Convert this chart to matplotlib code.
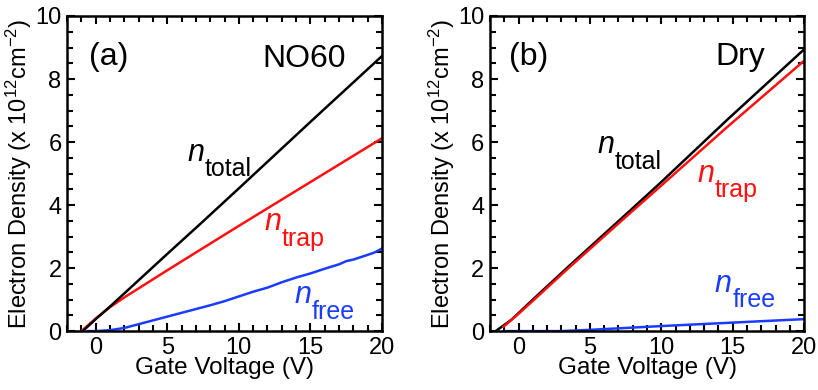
import numpy as np
import matplotlib.pyplot as plt
from matplotlib.ticker import MultipleLocator

plt.rcParams['font.family'] = ['Liberation Sans', 'DejaVu Sans']
plt.rcParams['mathtext.fontset'] = 'custom'
plt.rcParams['mathtext.rm'] = 'Liberation Sans'
plt.rcParams['mathtext.it'] = 'Liberation Sans:italic'

# (a) NO60
a_total_v = [-0.9, 0.0, 1.0, 5.0, 7.3, 10.0, 15.0, 20.0]
a_total_n = [0.0, 0.38, 0.78, 2.45, 3.40, 4.53, 6.64, 8.73]
a_trap_v = [-1.0, 0.0, 1.0, 2.0, 3.5, 5.0, 7.3, 10.0, 15.0, 20.0]
a_trap_n = [0.0, 0.40, 0.76, 1.07, 1.50, 1.93, 2.58, 3.34, 4.73, 6.12]
a_free_v = [-0.5, 0.0, 1.0, 2.0, 3.0, 4.0, 5.0, 6.0, 7.0, 8.0, 9.0, 10.0,
            11.0, 12.0, 13.0, 14.0, 15.0, 16.0, 17.0, 17.5, 18.0, 19.0, 19.5, 20.0]
a_free_n = [0.0, 0.0, 0.03, 0.10, 0.22, 0.34, 0.46, 0.58, 0.70, 0.82, 0.95, 1.10,
            1.25, 1.38, 1.55, 1.70, 1.83, 1.98, 2.12, 2.22, 2.27, 2.42, 2.50, 2.62]

# (b) Dry
b_total_v = [-1.6, -0.5, 1.0, 3.5, 7.8, 9.9, 14.6, 20.0]
b_total_n = [0.0, 0.36, 1.0, 2.05, 3.82, 4.69, 6.70, 8.94]
b_trap_v = [-1.05, 0.0, 1.0, 3.5, 7.8, 9.9, 14.6, 20.0]
b_trap_n = [0.14, 0.55, 0.96, 2.00, 3.74, 4.58, 6.47, 8.58]
b_free_v = [-1.0, 3.0, 5.0, 10.0, 15.0, 20.0]
b_free_n = [0.0, 0.0, 0.04, 0.16, 0.27, 0.38]

fig = plt.figure(figsize=(8.18, 3.9), dpi=100)
ax1 = fig.add_axes([0.082, 0.151, 0.385, 0.808])
ax2 = fig.add_axes([0.599, 0.151, 0.384, 0.808])

blue = '#1a3cff'
red = '#ff1010'


def style(ax):
    ax.set_xlim(-2, 20)
    ax.set_ylim(0, 10)
    ax.xaxis.set_major_locator(MultipleLocator(5))
    ax.xaxis.set_minor_locator(MultipleLocator(1))
    ax.yaxis.set_major_locator(MultipleLocator(2))
    ax.yaxis.set_minor_locator(MultipleLocator(0.5))
    ax.tick_params(which='both', direction='in', top=True, right=True,
                   width=1.5, labelsize=17)
    ax.tick_params(which='major', length=6, pad=4)
    ax.tick_params(which='minor', length=4)
    for s in ax.spines.values():
        s.set_linewidth(1.8)
    ax.set_xlabel('Gate Voltage (V)', fontsize=17.5, labelpad=-1)
    ax.set_ylabel('Electron Density (x 10$^{12}$cm$^{-2}$)', fontsize=17, labelpad=1)


def nlabel(ax, x, y, sub, color):
    ax.text(x, y, 'n', fontsize=22, style='italic', color=color, va='baseline')
    ax.annotate(sub, xy=(x, y), xytext=(12.5, -11), textcoords='offset points',
                fontsize=18, color=color, va='baseline')


ax1.plot(a_free_v, a_free_n, color=blue, lw=1.8)
ax1.plot(a_trap_v, a_trap_n, color=red, lw=1.8)
ax1.plot(a_total_v, a_total_n, color='black', lw=1.8)
style(ax1)
ax1.text(-0.5, 8.7, '(a)', fontsize=23, va='center')
ax1.text(17.5, 8.39, 'NO60', fontsize=23, ha='right', va='baseline')
nlabel(ax1, 6.4, 5.4, 'total', 'black')
nlabel(ax1, 11.8, 3.2, 'trap', red)
nlabel(ax1, 13.9, 0.88, 'free', blue)

ax2.plot(b_free_v, b_free_n, color=blue, lw=1.8)
ax2.plot(b_total_v, b_total_n, color='black', lw=1.8)
ax2.plot(b_trap_v, b_trap_n, color=red, lw=1.8)
style(ax2)
ax2.text(-0.65, 8.7, '(b)', fontsize=23, va='center')
ax2.text(17.25, 8.44, 'Dry', fontsize=23, ha='right', va='baseline')
nlabel(ax2, 5.5, 5.64, 'total', 'black')
nlabel(ax2, 12.5, 4.74, 'trap', red)
nlabel(ax2, 13.75, 1.25, 'free', blue)

fig.savefig('out.png', dpi=100)
